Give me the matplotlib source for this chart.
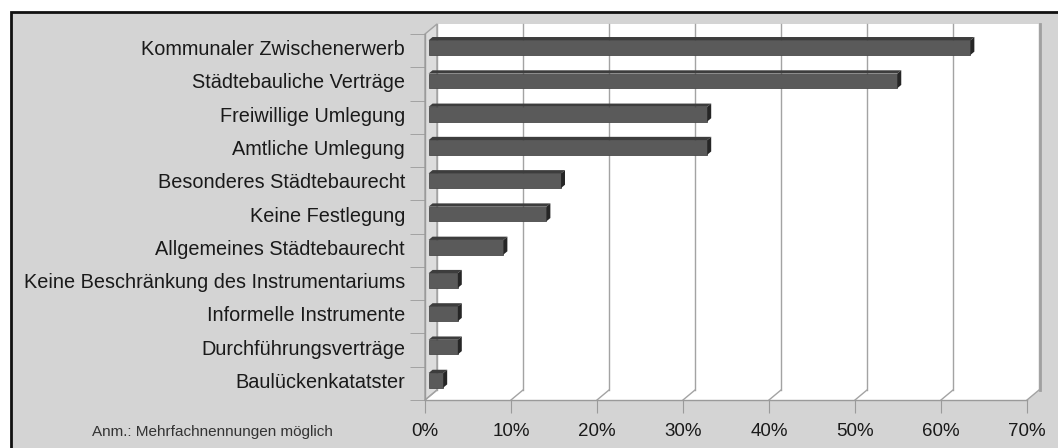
import numpy as np
import matplotlib
matplotlib.use('Agg')
import matplotlib.pyplot as plt
import matplotlib.transforms as mtransforms
from matplotlib.patches import Polygon, Rectangle

plt.rcParams['font.family'] = ['Liberation Sans', 'DejaVu Sans']

# data (top to bottom as in the chart)
categories = ["Kommunaler Zwischenerwerb", "Städtebauliche Verträge", "Freiwillige Umlegung",
              "Amtliche Umlegung", "Besonderes Städtebaurecht", "Keine Festlegung",
              "Allgemeines Städtebaurecht", "Keine Beschränkung des Instrumentariums",
              "Informelle Instrumente", "Durchführungsverträge", "Baulückenkatatster"]
shares = [63.0, 54.5, 32.4, 32.4, 15.4, 13.7, 8.7, 3.4, 3.4, 3.4, 1.7]
xticks = [0, 10, 20, 30, 40, 50, 60, 70]
xtick_labels = ["0%", "10%", "20%", "30%", "40%", "50%", "60%", "70%"]
note = "Anm.: Mehrfachnennungen möglich"

W, H = 1058, 448
fig = plt.figure(figsize=(W / 100, H / 100), dpi=100, facecolor='white')
# grey panel with black frame (right/bottom edges cut off)
fig.add_artist(Rectangle((11 / W, -0.1), 1.2, (H - 12) / H + 0.1, transform=fig.transFigure,
                         facecolor='#d4d4d4', edgecolor='#111111', lw=2, zorder=0))

ax = fig.add_axes([425 / W, (H - 400) / H, 602 / W, 366 / H])
ax.set_xlim(0, 70)
ax.set_ylim(-0.5, len(categories) - 0.5)
ax.patch.set_visible(False)

# pseudo 3d depth in pixels
DX, DY = 12, 10
ident = mtransforms.IdentityTransform()


def shift(f):
    return ax.transData + mtransforms.ScaledTranslation(f * DX / 100, f * DY / 100, fig.dpi_scale_trans)


def px(x, y, f=0.0):
    X, Y = ax.transData.transform((x, y))
    return (X + f * DX, Y + f * DY)


ylo, yhi = -0.5, len(categories) - 0.5
grid_c = '#a3a3a3'

# back wall, floor, side wall
ax.add_patch(Rectangle((0, ylo), 70, yhi - ylo, transform=shift(1), facecolor='white',
                       edgecolor='none', zorder=0, clip_on=False))
ax.plot([70, 70], [ylo, yhi], transform=shift(1) + mtransforms.ScaledTranslation(0.01, 0, fig.dpi_scale_trans),
        color='#a0a0a0', lw=2, zorder=1, clip_on=False)
floor = [px(0, ylo), px(70, ylo), px(70, ylo, 1), px(0, ylo, 1)]
ax.add_patch(Polygon(floor, closed=True, transform=ident, facecolor='white', edgecolor='none',
                     zorder=0, clip_on=False))
side = [px(0, ylo), px(0, yhi), px(0, yhi, 1), px(0, ylo, 1)]
ax.add_patch(Polygon(side, closed=True, transform=ident, facecolor='#dddddd', edgecolor=grid_c,
                     lw=1, zorder=0.5, clip_on=False))

for t in xticks:
    ax.plot([t, t], [ylo, yhi], transform=shift(1), color=grid_c, lw=1, zorder=1, clip_on=False)
    a, b = px(t, ylo), px(t, ylo, 1)
    ax.plot([a[0], b[0]], [a[1], b[1]], transform=ident, color=grid_c, lw=1, zorder=1, clip_on=False)

# bars
ypos = np.arange(len(categories))[::-1]
h = 0.44
f0, f1 = 0.3, 0.63
ax.barh(ypos, shares, height=h, transform=shift(f0), color='#5a5a5a', edgecolor='#4a4a4a',
        lw=0.6, zorder=3, clip_on=False)
for v, yi in zip(shares, ypos):
    top = [px(0, yi + h / 2, f0), px(v, yi + h / 2, f0), px(v, yi + h / 2, f1), px(0, yi + h / 2, f1)]
    sd = [px(v, yi - h / 2, f0), px(v, yi + h / 2, f0), px(v, yi + h / 2, f1), px(v, yi - h / 2, f1)]
    ax.add_patch(Polygon(top, closed=True, transform=ident, facecolor='#3d3d3d', edgecolor='none',
                         zorder=3, clip_on=False))
    ax.add_patch(Polygon(sd, closed=True, transform=ident, facecolor='#262626', edgecolor='none',
                         zorder=3, clip_on=False))

# category labels
lab_tr = ax.get_yaxis_transform() + mtransforms.ScaledTranslation(-0.20, 0.03, fig.dpi_scale_trans)
for yi, name in zip(ypos, categories):
    ax.text(0, yi, name, transform=lab_tr, ha='right', va='center_baseline', fontsize=14.3,
            color='#1a1a1a')

# axes styling
for s in ['top', 'right']:
    ax.spines[s].set_visible(False)
for s in ['left', 'bottom']:
    ax.spines[s].set_color('#9a9a9a')
    ax.spines[s].set_linewidth(1)
ax.set_xticks(xticks)
ax.set_xticklabels(xtick_labels)
ax.tick_params(axis='x', length=9.4, color='#9a9a9a', labelsize=13.5, labelcolor='#1a1a1a', pad=7)
ax.set_yticks([])
ax.set_yticks(np.arange(ylo, yhi + 0.5, 1), minor=True)
ax.tick_params(axis='y', which='minor', length=10.8, color='#9a9a9a')

fig.text(212 / W, (H - 432) / H, note, ha='center', va='center', fontsize=11, color='#333333')

plt.savefig('out.png', dpi=100)
